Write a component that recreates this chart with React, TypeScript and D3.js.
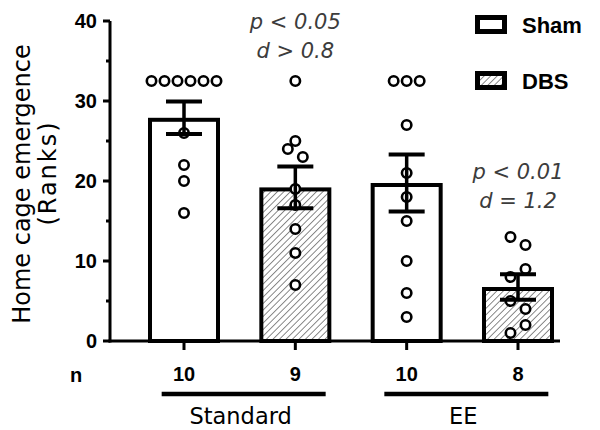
import React from "react";
import * as d3 from "d3";

// ---- data ----
const groupKeys = ["Standard-Sham", "Standard-DBS", "EE-Sham", "EE-DBS"];
const conditions = ["Sham", "DBS", "Sham", "DBS"];
const nCounts = [10, 9, 10, 8];
const meanRanks = [27.9, 19.2, 19.75, 6.75];
const semRanks = [2.03, 2.62, 3.55, 1.58];
const standardShamRanks = [32.5, 32.5, 32.5, 32.5, 32.5, 32.5, 26, 22, 20, 16];
const standardDbsRanks = [32.5, 25, 24, 23, 19, 17, 14, 11, 7];
const eeShamRanks = [32.5, 32.5, 32.5, 27, 21, 18, 15, 10, 6, 3];
const eeDbsRanks = [13, 12, 9, 8, 5, 4, 2, 1];
const housingNames = ["Standard", "EE"];
const housingMembers = [
  ["Standard-Sham", "Standard-DBS"],
  ["EE-Sham", "EE-DBS"],
];
const yTicks = [0, 10, 20, 30, 40];
const yMinorTicks = [5, 15, 25, 35];
const legendItems = ["Sham", "DBS"];
const statLines = [
  ["p < 0.05", "d > 0.8"],
  ["p < 0.01", "d = 1.2"],
];
const statGroups = ["Standard-DBS", "EE-DBS"];

const pointSets = [standardShamRanks, standardDbsRanks, eeShamRanks, eeDbsRanks];

const W = 600;
const H = 430;
const y = d3.scaleLinear().domain([0, 40]).range([341, 21]);
const x = d3.scalePoint<string>().domain(groupKeys).range([184, 518]);
const axisX = 110;
const axisRight = 560;
const barW = 72;
const barStroke = 4;
const R = 4.7;

// beeswarm-like placement: ties spread evenly, close clusters alternate sides
function swarm(values: number[]): { v: number; dx: number }[] {
  const sorted = [...values].sort((a, b) => b - a);
  const clusters: number[][] = [];
  for (const v of sorted) {
    const last = clusters[clusters.length - 1];
    if (last && Math.abs(y(last[last.length - 1]) - y(v)) < 12) last.push(v);
    else clusters.push([v]);
  }
  const out: { v: number; dx: number }[] = [];
  let alt = 0;
  for (const c of clusters) {
    const tie = c.every((v) => v === c[0]);
    if (c.length === 1) out.push({ v: c[0], dx: 0 });
    else if (tie) {
      const s = 13;
      c.forEach((v, i) => out.push({ v, dx: (i - (c.length - 1) / 2) * s }));
    } else if (c.length === 2) {
      const sign = alt % 2 === 0 ? -1 : 1;
      alt++;
      out.push({ v: c[0], dx: sign * 7.5 });
      out.push({ v: c[1], dx: -sign * 7.5 });
    } else {
      const slots = [0, -1, 1, -2, 2];
      c.forEach((v, i) => out.push({ v, dx: slots[i % 5] * 7.5 }));
    }
  }
  return out;
}

const regular = "'DejaVu Sans', Verdana, sans-serif";
const bold = "'Liberation Sans', Arial, Helvetica, sans-serif";

export default function App() {
  return (
    <svg
      width={W}
      height={H}
      viewBox={`0 0 ${W} ${H}`}
      style={{ position: "absolute", left: 0, top: 0, background: "#fff" }}
    >
      <defs>
        <pattern
          id="hatch"
          width={4.6}
          height={4.6}
          patternUnits="userSpaceOnUse"
          patternTransform="rotate(45)"
        >
          <rect width={4.6} height={4.6} fill="#fff" />
          <line x1={0} y1={0} x2={0} y2={4.6} stroke="#4a4a4a" strokeWidth={1.3} />
        </pattern>
      </defs>
      <rect width={W} height={H} fill="#fff" />

      {/* bars */}
      {groupKeys.map((g, i) => {
        const cx = x(g)!;
        const top = y(meanRanks[i]);
        return (
          <rect
            key={g}
            x={cx - barW / 2 + barStroke / 2}
            y={top + barStroke / 2}
            width={barW - barStroke}
            height={y(0) - top - barStroke / 2}
            fill={conditions[i] === "DBS" ? "url(#hatch)" : "#fff"}
            stroke="#000"
            strokeWidth={barStroke}
          />
        );
      })}

      {/* points */}
      {groupKeys.map((g, i) =>
        swarm(pointSets[i]).map((p, j) => (
          <circle
            key={`${g}-${j}`}
            cx={x(g)! + p.dx}
            cy={y(p.v)}
            r={R}
            fill="#fff"
            stroke="#000"
            strokeWidth={2.6}
          />
        ))
      )}

      {/* error bars */}
      {groupKeys.map((g, i) => {
        const cx = x(g)!;
        const hi = y(meanRanks[i] + semRanks[i]);
        const lo = y(meanRanks[i] - semRanks[i]);
        return (
          <g key={`eb-${g}`} stroke="#000">
            <line x1={cx} x2={cx} y1={hi} y2={lo} strokeWidth={3.5} />
            <line x1={cx - 18} x2={cx + 18} y1={hi} y2={hi} strokeWidth={4} />
            <line x1={cx - 18} x2={cx + 18} y1={lo} y2={lo} strokeWidth={4} />
          </g>
        );
      })}

      {/* y axis */}
      <line x1={axisX} x2={axisX} y1={y(40)} y2={y(0) + 1.5} stroke="#000" strokeWidth={3} />
      {yTicks.map((t) => (
        <g key={`yt-${t}`}>
          <line x1={axisX - 7} x2={axisX} y1={y(t)} y2={y(t)} stroke="#000" strokeWidth={3} />
          <text
            x={axisX - 13}
            y={y(t)}
            dy="0.36em"
            textAnchor="end"
            fontFamily={bold}
            fontWeight="bold"
            fontSize={20}
          >
            {t}
          </text>
        </g>
      ))}
      {yMinorTicks.map((t) => (
        <line key={`ym-${t}`} x1={axisX - 4} x2={axisX} y1={y(t)} y2={y(t)} stroke="#000" strokeWidth={3} />
      ))}

      {/* x axis */}
      <line x1={axisX - 1.5} x2={axisRight} y1={y(0)} y2={y(0)} stroke="#000" strokeWidth={3} />
      {groupKeys.map((g) => (
        <line key={`xt-${g}`} x1={x(g)} x2={x(g)} y1={y(0)} y2={y(0) + 9} stroke="#000" strokeWidth={3} />
      ))}

      {/* y label */}
      <g transform={`translate(30, 184) rotate(-90)`}>
        <text textAnchor="middle" fontFamily={regular} fontSize={24}>
          Home cage emergence
        </text>
      </g>
      <g transform={`translate(56, 173) rotate(-90)`}>
        <text textAnchor="middle" fontFamily={regular} fontSize={24} letterSpacing={2}>
          (Ranks)
        </text>
      </g>

      {/* n row */}
      <text x={70} y={382} fontFamily={bold} fontWeight="bold" fontSize={20}>
        n
      </text>
      {groupKeys.map((g, i) => (
        <text
          key={`n-${g}`}
          x={x(g)}
          y={381}
          textAnchor="middle"
          fontFamily={bold}
          fontWeight="bold"
          fontSize={20}
        >
          {nCounts[i]}
        </text>
      ))}

      {/* housing groups */}
      {housingNames.map((h, i) => {
        const xs = housingMembers[i].map((m) => x(m)!);
        const mid = (xs[0] + xs[1]) / 2;
        return (
          <g key={`h-${h}`}>
            <line x1={mid - 78} x2={mid + 86} y1={394} y2={394} stroke="#000" strokeWidth={4.5} />
            <text x={mid + 1} y={424} textAnchor="middle" fontFamily={regular} fontSize={22.5}>
              {h}
            </text>
          </g>
        );
      })}

      {/* stats */}
      {statGroups.map((g, i) => {
        const cx = x(g)!;
        const base = i === 0 ? 29 : 179;
        return (
          <g key={`s-${g}`} fill="#3c3c3c" fontFamily={regular} fontStyle="italic" fontSize={21}>
            <text x={cx} y={base} textAnchor="middle">
              {statLines[i][0]}
            </text>
            <text x={cx} y={base + 29} textAnchor="middle">
              {statLines[i][1]}
            </text>
          </g>
        );
      })}

      {/* legend */}
      {legendItems.map((l, i) => {
        const top = i === 0 ? 15 : 71;
        return (
          <g key={`lg-${l}`}>
            <rect
              x={477.5}
              y={top + 2.5}
              width={27}
              height={14}
              fill={l === "DBS" ? "url(#hatch)" : "#fff"}
              stroke="#000"
              strokeWidth={5}
            />
            <text x={522} y={top + 18} fontFamily={bold} fontWeight="bold" fontSize={22}>
              {l}
            </text>
          </g>
        );
      })}
    </svg>
  );
}
